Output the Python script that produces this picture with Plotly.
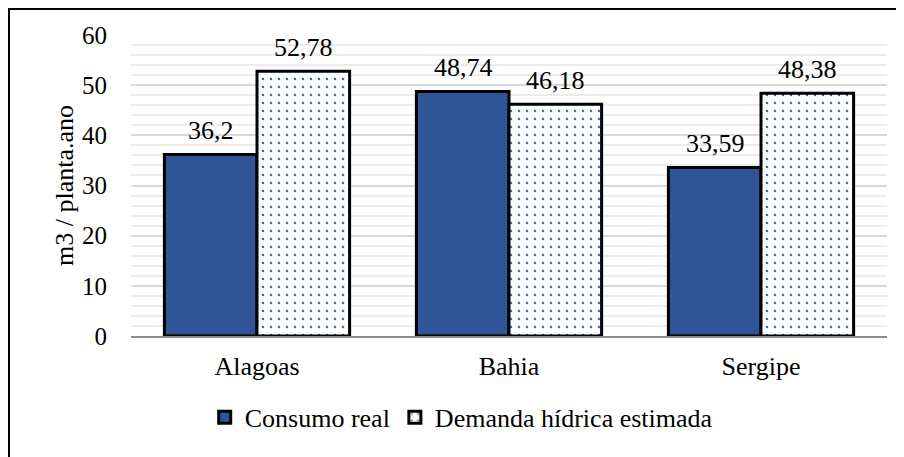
import plotly.graph_objects as go

estados = ["Alagoas", "Bahia", "Sergipe"]
consumo_real = [36.2, 48.74, 33.59]
demanda_estimada = [52.78, 46.18, 48.38]
y_ticks = [0, 10, 20, 30, 40, 50, 60]

FONT = "Liberation Serif, Tinos, Times New Roman, serif"


def rotulo(v):
    return str(v).replace(".", ",")


fig = go.Figure()

fig.add_trace(go.Bar(
    x=estados, y=consumo_real, name="Consumo real",
    marker=dict(color="#2f5597", line=dict(color="black", width=3)),
))
fig.add_trace(go.Bar(
    x=estados, y=demanda_estimada, name="Demanda hídrica estimada",
    marker=dict(color="white", line=dict(color="black", width=3),
                pattern=dict(shape=".", fgcolor="#3a64b0", bgcolor="white",
                             size=8, solidity=0.08)),
))

# rótulos de dados acima das barras
for i, est in enumerate(estados):
    for vals, dx in ((consumo_real, -46), (demanda_estimada, 46)):
        fig.add_annotation(x=est, y=vals[i], text=rotulo(vals[i]),
                           xshift=dx, yshift=7, yanchor="bottom",
                           showarrow=False,
                           font=dict(family=FONT, size=26, color="black"))

# a página tem margem de 8px, por isso as margens vêm deslocadas
fig.update_layout(
    template="none",
    width=904, height=457,
    margin=dict(l=123, r=25, t=27, b=129, autoexpand=False),
    paper_bgcolor="white", plot_bgcolor="white",
    barmode="group", bargap=0.265, bargroupgap=0,
    font=dict(family=FONT, size=26, color="black"),
    showlegend=True,
    legend=dict(orientation="h", x=0.0975, xanchor="left", y=-0.27,
                yanchor="middle", font=dict(family=FONT, size=26),
                traceorder="normal"),
)

fig.update_xaxes(showline=True, linecolor="#8c8c8c", linewidth=2,
                 ticks="", tickfont=dict(family=FONT, size=26),
                 ticklabelstandoff=6, showgrid=False)
fig.update_yaxes(range=[0, 60], tickvals=y_ticks, ticks="",
                 showgrid=True, gridcolor="#d9d9d9", gridwidth=2,
                 minor=dict(dtick=2, showgrid=True, gridcolor="#ececec",
                            gridwidth=1.5, ticks=""),
                 zeroline=False, showline=False,
                 tickfont=dict(family=FONT, size=25), ticklabelstandoff=23,
                 title=dict(text="m3 / planta.ano",
                            font=dict(family=FONT, size=26), standoff=0))

# moldura externa
fig.add_shape(type="rect", xref="paper", yref="paper",
              x0=-0.1614, x1=1.2, y0=-0.6, y1=1.0864,
              line=dict(color="black", width=2), layer="above")

fig.write_html("out.html")
